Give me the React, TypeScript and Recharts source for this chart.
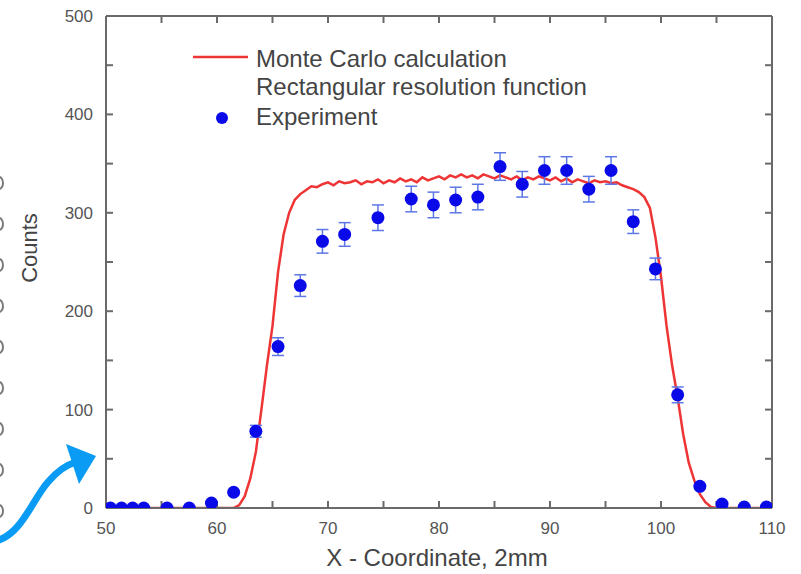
import React from "react";
import {
  ComposedChart,
  Line,
  Scatter,
  ErrorBar,
  XAxis,
  YAxis,
  Legend,
} from "recharts";

// Monte Carlo calculation (0.5 mm steps)
const mcX = [
  50, 50.5, 51, 51.5, 52, 52.5, 53, 53.5, 54, 54.5, 55, 55.5, 56, 56.5, 57, 57.5, 58, 58.5, 59, 59.5,
  60, 60.5, 61, 61.5, 62, 62.5, 63, 63.5, 64, 64.5, 65, 65.5, 66, 66.5, 67, 67.5, 68, 68.5, 69, 69.5,
  70, 70.5, 71, 71.5, 72, 72.5, 73, 73.5, 74, 74.5, 75, 75.5, 76, 76.5, 77, 77.5, 78, 78.5, 79, 79.5,
  80, 80.5, 81, 81.5, 82, 82.5, 83, 83.5, 84, 84.5, 85, 85.5, 86, 86.5, 87, 87.5, 88, 88.5, 89, 89.5,
  90, 90.5, 91, 91.5, 92, 92.5, 93, 93.5, 94, 94.5, 95, 95.5, 96, 96.5, 97, 97.5, 98, 98.5, 99, 99.5,
  100, 100.5, 101, 101.5, 102, 102.5, 103, 103.5, 104, 104.5, 105, 105.5, 106, 106.5, 107, 107.5, 108, 108.5, 109, 109.5,
  110,
];
const mcY = [
  0, 0, 0, 0, 0, 0, 0, 0, 0, 0, 0, 0, 0, 0, 0, 0, 0, 0, 0, 0,
  0, 0, 0, 0, 3, 12, 30, 57, 100, 145, 185, 240, 278, 300, 313, 319, 323, 327, 326, 329,
  331, 328, 332, 330, 331, 333, 329, 332, 331, 334, 330, 333, 331, 335, 332, 334, 331, 336, 333, 335,
  337, 334, 338, 336, 339, 336, 338, 335, 339, 337, 335, 338, 336, 334, 337, 333, 336, 334, 337, 335,
  333, 336, 332, 335, 331, 334, 332, 330, 333, 331, 332, 330, 331, 328, 326, 324, 321, 316, 305, 275,
  235, 185, 145, 112, 75, 46, 28, 14, 6, 1, 0, 0, 0, 0, 0, 0, 0, 0, 0, 0,
  0,
];

// Experiment
const expX = [
  50.4, 51.4, 52.4, 53.4, 55.5, 57.5, 59.5, 61.5, 63.5, 65.5, 67.5, 69.5, 71.5, 74.5, 77.5, 79.5,
  81.5, 83.5, 85.5, 87.5, 89.5, 91.5, 93.5, 95.5, 97.5, 99.5, 101.5, 103.5, 105.5, 107.5, 109.5,
];
const expY = [
  0, 0, 0, 0, 0, 0, 5, 16, 78, 164, 226, 271, 278, 295, 314, 308,
  313, 316, 347, 329, 343, 343, 324, 343, 291, 243, 115, 22, 4, 1, 1,
];
const expErr = [
  0, 0, 0, 0, 0, 0, 0, 0, 6, 9, 11, 12, 12, 13, 13, 13,
  13, 13, 14, 13, 14, 14, 13, 14, 12, 11, 8, 0, 0, 0, 0,
];

const xTicks = [50, 55, 60, 65, 70, 75, 80, 85, 90, 95, 100, 105, 110];
const yTicks = [0, 50, 100, 150, 200, 250, 300, 350, 400, 450, 500];

const mcData = mcX.map((x, i) => ({ x, y: mcY[i] }));
const expData = expX.map((x, i) => ({ x, y: expY[i], err: expErr[i] }));

const RED = "#ee3434";
const BLUE = "#0a0ae8";
const AXIS = "#6a6a6a";
const TEXT = "#444";
const FONT = "'Liberation Sans', Arial, sans-serif";

const tickStyle = { fontSize: 17, fill: "#555", fontFamily: FONT };

function LegendBox() {
  return (
    <svg width={801} height={150} style={{ display: "block" }}>
      <line x1={193} x2={248} y1={57} y2={57} stroke={RED} strokeWidth={2.5} />
      <text x={256} y={67} fontSize={24} fill={TEXT} fontFamily={FONT}>
        Monte Carlo calculation
      </text>
      <text x={256} y={95} fontSize={24} fill={TEXT} fontFamily={FONT}>
        Rectangular resolution function
      </text>
      <circle cx={222} cy={118} r={6} fill={BLUE} />
      <text x={256} y={125} fontSize={24} fill={TEXT} fontFamily={FONT}>
        Experiment
      </text>
    </svg>
  );
}

// cropped glyph fragments along the left edge of the source image
const edgeMarks = [183, 224, 265, 306, 347, 388, 429, 470, 511];

export default function App() {
  return (
    <div style={{ position: "absolute", left: 0, top: 0, width: 801, height: 574, background: "#fff" }}>
      <ComposedChart
        width={801}
        height={574}
        margin={{ top: 15, right: 28, bottom: 0, left: 0 }}
        style={{ fontFamily: FONT }}
      >
        <XAxis
          xAxisId="b"
          type="number"
          dataKey="x"
          domain={[50, 110]}
          ticks={xTicks}
          allowDataOverflow
          height={66}
          stroke={AXIS}
          strokeWidth={2}
          tickSize={-7}
          tickMargin={21}
          tick={tickStyle}
          tickFormatter={(v: number) => (v % 10 === 0 ? String(v) : "")}
          label={() => (
            <text x={437} y={566} textAnchor="middle" fontSize={24} fill={TEXT} fontFamily={FONT}>
              X - Coordinate, 2mm
            </text>
          )}
        />
        <XAxis
          xAxisId="t"
          orientation="top"
          type="number"
          dataKey="x"
          domain={[50, 110]}
          ticks={xTicks}
          allowDataOverflow
          height={1}
          stroke={AXIS}
          strokeWidth={2}
          tickSize={-7}
          tickFormatter={() => ""}
        />
        <YAxis
          yAxisId="l"
          type="number"
          domain={[0, 500]}
          ticks={yTicks}
          allowDataOverflow
          width={106}
          stroke={AXIS}
          strokeWidth={2}
          tickSize={-7}
          tickMargin={20}
          tick={tickStyle}
          tickFormatter={(v: number) => (v % 100 === 0 ? String(v) : "")}
          label={() => (
            <text
              x={29}
              y={248}
              transform="rotate(-90 29 248)"
              textAnchor="middle"
              dominantBaseline="central"
              fontSize={22}
              fill={TEXT}
              fontFamily={FONT}
            >
              Counts
            </text>
          )}
        />
        <YAxis
          yAxisId="r"
          orientation="right"
          type="number"
          domain={[0, 500]}
          ticks={yTicks}
          allowDataOverflow
          width={1}
          stroke={AXIS}
          strokeWidth={2}
          tickSize={-7}
          tickFormatter={() => ""}
        />
        <Line
          xAxisId="b"
          yAxisId="l"
          data={mcData}
          dataKey="y"
          name="Monte Carlo calculation"
          type="linear"
          stroke={RED}
          strokeWidth={2.5}
          dot={false}
          activeDot={false}
          isAnimationActive={false}
        />
        <Scatter
          xAxisId="b"
          yAxisId="l"
          data={expData}
          dataKey="y"
          name="Experiment"
          fill={BLUE}
          isAnimationActive={false}
          shape={(p: any) => <circle cx={p.cx} cy={p.cy} r={6.5} fill={BLUE} />}
        >
          <ErrorBar dataKey="err" direction="y" width={6} stroke="#5d78e6" strokeWidth={1.5} />
        </Scatter>
        <Legend
          layout="horizontal"
          verticalAlign="middle"
          align="center"
          wrapperStyle={{ top: 0, left: 0, width: 801, height: 150 }}
          content={() => <LegendBox />}
        />
      </ComposedChart>
      <svg
        width={801}
        height={574}
        style={{ position: "absolute", left: 0, top: 0, pointerEvents: "none" }}
      >
        {edgeMarks.map((y) => (
          <ellipse key={y} cx={-1} cy={y} rx={4} ry={6} fill="none" stroke="#7a7a7a" strokeWidth={2} />
        ))}
        <path
          d="M -4 541 C 22 534, 32 500, 48 482 C 58 470, 66 465, 76 462"
          fill="none"
          stroke="#0a9bf5"
          strokeWidth={7}
          strokeLinecap="round"
        />
        <polygon points="66,444 96,456 79,484" fill="#0a9bf5" />
      </svg>
    </div>
  );
}
